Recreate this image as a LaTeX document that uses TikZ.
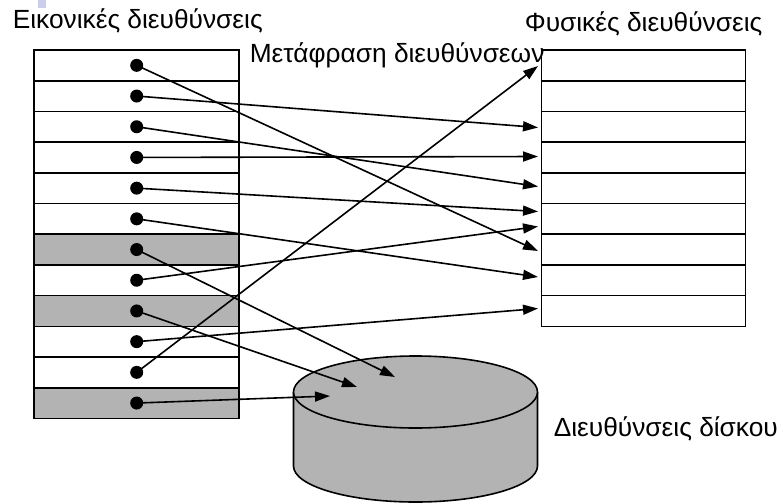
\documentclass[tikz,border=0pt]{standalone}
\usepackage{fontspec}
\setmainfont{Liberation Sans}
\usetikzlibrary{arrows.meta}
\definecolor{diskgray}{RGB}{179,179,179}
\definecolor{bulletblue}{RGB}{204,204,236}

\begin{document}
\begin{tikzpicture}[x=1pt,y=-1pt,line width=1.6pt,
  dot/.style={circle,fill=black,inner sep=0pt,minimum size=13pt},
  lbl/.style={font=\fontsize{26.3}{30}\selectfont,inner sep=0pt,anchor=base west},
  map/.style={-{Triangle[length=15pt,width=10pt]}}]
  \def\rh{30.7};
  \def\ty{50};
  \def\lx{34};
  \def\lxx{239};
  \def\rx{541.5};
  \def\rxx{745.5};
  \useasboundingbox (0,0) rectangle (783,503);
  \fill[bulletblue] (38,0) rectangle (46,8);
  % virtual pages
  \foreach \i in {0,...,11}
    \draw (\lx,\ty+\i*\rh) rectangle (\lxx,\ty+\i*\rh+\rh);
  \foreach \i in {6,8,11}
    \filldraw[fill=diskgray] (\lx,\ty+\i*\rh) rectangle (\lxx,\ty+\i*\rh+\rh);
  % physical frames
  \foreach \i in {0,...,8}
    \draw (\rx,\ty+\i*\rh) rectangle (\rxx,\ty+\i*\rh+\rh);
  % disk
  \filldraw[fill=diskgray] (293.5,392) -- (293.5,466)
    arc[start angle=180,end angle=360,x radius=122pt,y radius=36pt]
    -- (537.5,392);
  \filldraw[fill=diskgray] (415.5,392) ellipse[x radius=122pt,y radius=36pt];
  \node[lbl] (virt) at (12,29) {Εικονικές διευθύνσεις};
  \node[lbl] (trans) at (249,62) {Μετάφραση διευθύνσεων};
  \node[lbl] (phys) at (524,31) {Φυσικές διευθύνσεις};
  \node[lbl] (dsk) at (553,436) {Διευθύνσεις δίσκου};
  % entries
  \foreach \i in {0,...,11}
    \node[dot] (v\i) at (136.7,\ty+\i*\rh+0.5*\rh) {};
  \foreach \i/\yy in {0/251,1/127.5,2/186.5,3/156.5,4/211.5,5/277,7/226.5,9/308.5,10/66}
    \coordinate (t\i) at (538,\yy);
  \coordinate (t6) at (395,377);
  \coordinate (t8) at (357,387);
  \coordinate (t11) at (330,396);
  \foreach \i in {0,...,11}
    \draw[map] (v\i.center) -- (t\i);
\end{tikzpicture}
\end{document}
